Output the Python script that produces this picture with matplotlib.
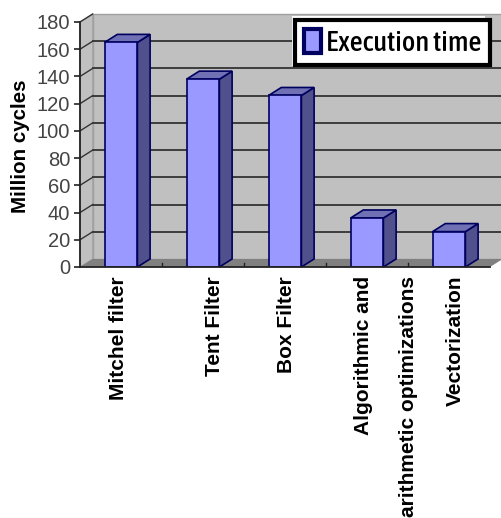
import matplotlib
matplotlib.use("Agg")
import matplotlib.pyplot as plt
from matplotlib.patches import Patch, Polygon, Rectangle

categories = ["Mitchel filter", "Tent Filter", "Box Filter", "Algorithmic and", "Vectorization"]
values = [165, 138, 126, 36, 26]
y_ticks = [0, 20, 40, 60, 80, 100, 120, 140, 160, 180]
series_name = "Execution time"

# faux 3D depth, in data units
DX = 0.155
DY = 5.9
BAR_W = 0.40

FRONT = "#9999FF"
SIDE = "#50508C"
TOP = "#7070B4"
EDGE = "#000060"
WALL = "#C0C0C0"
FLOOR = "#808080"
GRID = "#333333"

W, H = 502, 518
fig = plt.figure(figsize=(W / 100, H / 100), dpi=100)
ax = fig.add_axes([80 / W, 1 - 267 / H, 410 / W, 245 / H])
ax.set_xlim(0, 5)
ax.set_ylim(0, 180)
ax.patch.set_visible(False)


def poly(pts, face, edge="none", lw=0.0, z=1):
    ax.add_patch(Polygon(pts, closed=True, facecolor=face, edgecolor=edge,
                         linewidth=lw, zorder=z, clip_on=False))


# walls and floor
poly([(DX, DY), (5 + DX, DY), (5 + DX, 180 + DY), (DX, 180 + DY)], WALL, "#A0A0A0", 1.0, 1)
poly([(0, 0), (DX, DY), (DX, 180 + DY), (0, 180)], WALL, "#A0A0A0", 0.8, 1)
poly([(0, 0), (DX, DY), (5 + DX, DY), (5, 0)], FLOOR, z=2)

# gridlines run along the back wall, with a diagonal on the side wall
for v in y_ticks[1:-1]:
    ax.plot([DX, 5 + DX], [v + DY, v + DY], color=GRID, lw=1.3, zorder=2, clip_on=False)
for v in y_ticks[1:]:
    ax.plot([0, DX], [v, v + DY], color=GRID, lw=1.0, zorder=2, clip_on=False)

# small category separators on the floor
for i in range(1, 5):
    ax.plot([i, i], [0, 3.2], color="#222222", lw=1.0, zorder=3)

# bars: front face from the library, side and top faces from the same values
centers = [i + 0.5 for i in range(len(values))]
ax.bar(centers, values, width=BAR_W, color=FRONT, edgecolor=EDGE, linewidth=1.2, zorder=5)
for c, v in zip(centers, values):
    l, r = c - BAR_W / 2, c + BAR_W / 2
    poly([(r, 0), (r + DX, DY), (r + DX, v + DY), (r, v)], SIDE, EDGE, 1.2, 4)
    poly([(l, v), (l + DX, v + DY), (r + DX, v + DY), (r, v)], TOP, EDGE, 1.2, 4)

# axes
for name in ["top", "right"]:
    ax.spines[name].set_visible(False)
ax.spines["left"].set_color("#222222")
ax.spines["left"].set_linewidth(1.3)
ax.spines["bottom"].set_color("#222222")
ax.spines["bottom"].set_linewidth(1.3)
ax.spines["bottom"].set_zorder(6)
ax.set_xticks([])
ax.set_yticks(y_ticks)
ax.tick_params(axis="y", length=4, width=1.2, color="#222222", pad=3, labelsize=14.5,
               labelcolor="#444444")
for t in ax.get_yticklabels():
    t.set_fontfamily("Liberation Sans")

fig.text(21 / W, 1 - 146 / H, "Million cycles", rotation=90, ha="center", va="center",
         family="Liberation Sans", weight="bold", fontsize=14.8, color="black")

# category labels hang below the axis at slightly uneven offsets
label_x = [119, 215, 287, 364, 455]
for x, name in zip(label_x, categories):
    fig.text(x / W, 1 - 276 / H, name, rotation=90, ha="center", va="top",
             family="Liberation Sans", weight="bold", fontsize=15, color="black")
fig.text(409 / W, 1 - 276 / H, "arithmetic optimizations", rotation=90, ha="center", va="top",
         family="Liberation Sans", weight="bold", fontsize=15, color="black")

# legend with a white rim around the black frame
ax.add_patch(Rectangle((292 / W, 1 - 66 / H), 193 / W, 50 / H, transform=fig.transFigure,
                       facecolor="white", edgecolor="none", zorder=7, clip_on=False))
handle = Patch(facecolor=FRONT, edgecolor=EDGE, linewidth=3)
leg = ax.legend([handle], [series_name], loc="upper left", bbox_to_anchor=(295 / W, 1 - 20 / H),
                bbox_transform=fig.transFigure, fancybox=False, framealpha=1.0, edgecolor="black",
                borderaxespad=0, borderpad=0.3, handlelength=0.6, handleheight=0.95,
                handletextpad=0.2,
                prop={"family": ["Asap Condensed", "Liberation Sans"], "weight": 500,
                      "size": 20.5})
leg.get_frame().set_linewidth(3)
leg.set_zorder(8)

fig.savefig("out.png", dpi=100, facecolor="white")
